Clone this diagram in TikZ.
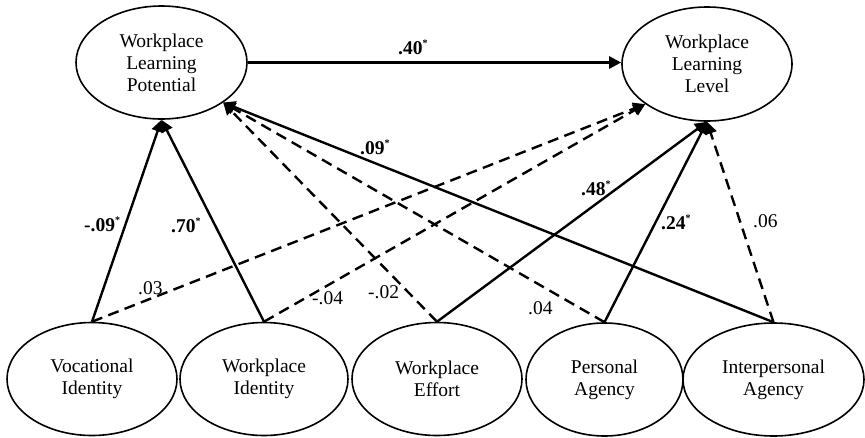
\documentclass[tikz,border=0pt]{standalone}
\usepackage{fontspec}
\setmainfont{Liberation Serif}
\usetikzlibrary{shapes.geometric,arrows.meta}

\tikzset{
  latent/.style={draw, line width=1.6pt, shape=ellipse, inner sep=0pt,
    align=center, font=\fontsize{19.5}{22}\selectfont},
  path/.style={line width=2.4pt, -{Triangle[length=12pt,width=12pt]}},
  nspath/.style={path, dash pattern=on 11pt off 6.5pt},
  coef/.style={anchor=base west, inner sep=0pt, font=\fontsize{19.5}{22}\selectfont},
  sigcoef/.style={coef, font=\fontsize{19.5}{22}\selectfont\bfseries},
}
\newcommand{\sig}{\raisebox{8pt}{\fontsize{10}{10}\selectfont *}}

\begin{document}
\begin{tikzpicture}[x=1pt, y=-1pt]
\useasboundingbox (0,0) rectangle (865,437);

% outcome variables
\node[latent, minimum width=171pt, minimum height=113pt] (wlp) at (161.5,62.5) {Workplace\\Learning\\Potential};
\node[latent, minimum width=170pt, minimum height=114pt] (wll) at (707,64) {Workplace\\Learning\\Level};

% predictors
\node[latent, minimum width=170pt, minimum height=113pt] (vi) at (92,379) {Vocational\\Identity};
\node[latent, minimum width=168pt, minimum height=113pt] (wi) at (264,379) {Workplace\\Identity};
\node[latent, minimum width=170pt, minimum height=113pt] (we) at (437,379) {Workplace\\Effort};
\node[latent, minimum width=157pt, minimum height=113pt] (pa) at (604.5,379.5) {Personal\\Agency};
\node[latent, minimum width=181pt, minimum height=113pt] (ia) at (773.5,379.5) {Interpersonal\\Agency};

% paths into Workplace Learning Potential
\draw[path] (vi.north) -- (wlp.south);
\draw[path] (wi.north) -- (wlp.south);
\draw[nspath] (we.north) -- (wlp.-33.5);
\draw[nspath] (pa.north) -- (wlp.-33.5);
\draw[path] (ia.north) -- (wlp.-33.5);

% paths into Workplace Learning Level
\draw[path] (wlp.east) -- (wll.west |- wlp.east);
\draw[nspath] (vi.north) -- (wll.-147);
\draw[nspath] (wi.north) -- (wll.-147);
\draw[path] (we.north) -- (wll.south);
\draw[path] (pa.north) -- (wll.south);
\draw[nspath] (ia.north) -- (wll.south);

% coefficients
\node[sigcoef] (c1) at (398,54) {.40\sig};
\node[sigcoef] (c2) at (360,154) {.09\sig};
\node[sigcoef] (c3) at (84,231) {-.09\sig};
\node[sigcoef] (c4) at (171,232) {.70\sig};
\node[sigcoef] (c5) at (581,195) {.48\sig};
\node[sigcoef] (c6) at (661,229) {.24\sig};
\node[coef] (c7) at (753,227) {.06};
\node[coef] (c8) at (138,294) {.03};
\node[coef] (c9) at (312,304) {-.04};
\node[coef] (c10) at (368,298) {-.02};
\node[coef] (c11) at (528,314) {.04};
\end{tikzpicture}
\end{document}
